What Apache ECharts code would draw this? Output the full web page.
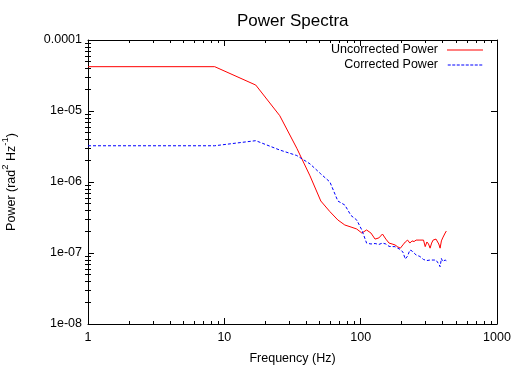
<!DOCTYPE html>
<html>
<head>
<meta charset="utf-8">
<script src="https://cdn.jsdelivr.net/npm/echarts@6/dist/echarts.min.js"></script>
<style>html,body{margin:0;padding:0;background:#fff;}#c{width:522px;height:366px;}</style>
</head>
<body>
<div id="c"></div>
<script>
// Frequencies (Hz)
var freq = [1, 8.5, 17, 25.5, 34, 42.5, 51, 59.5, 68, 76.5, 85, 93.5, 102, 110.5, 119, 127.5, 136, 144.5, 153, 161.5, 170, 178.5, 187, 195.5, 204, 212.5, 221, 229.5, 238, 246.5, 255, 263.5, 272, 280.5, 289, 297.5, 306, 314.5, 323, 331.5, 340, 348.5, 357, 365.5, 374, 382.5, 391, 399.5, 408, 416.5, 425];
// Uncorrected power (rad^2 Hz^-1)
var uncorrected = [4.21e-5, 4.21e-5, 2.32e-5, 8.59e-6, 2.99e-6, 1.22e-6, 5.40e-7, 3.82e-7, 2.92e-7, 2.48e-7, 2.32e-7, 2.18e-7, 1.91e-7, 2.11e-7, 1.91e-7, 1.57e-7, 1.63e-7, 1.85e-7, 1.57e-7, 1.38e-7, 1.34e-7, 1.30e-7, 1.22e-7, 1.17e-7, 1.30e-7, 1.43e-7, 1.52e-7, 1.38e-7, 1.48e-7, 1.45e-7, 1.52e-7, 1.61e-7, 1.52e-7, 1.57e-7, 1.52e-7, 1.23e-7, 1.43e-7, 1.34e-7, 1.17e-7, 1.38e-7, 1.52e-7, 1.52e-7, 1.57e-7, 1.52e-7, 1.34e-7, 1.17e-7, 1.48e-7, 1.63e-7, 1.73e-7, 1.91e-7, 2.04e-7];
// Corrected power (rad^2 Hz^-1)
var corrected = [3.24e-6, 3.24e-6, 3.82e-6, 2.82e-6, 2.36e-6, 1.80e-6, 1.30e-6, 1.00e-6, 5.40e-7, 4.74e-7, 3.37e-7, 2.92e-7, 2.11e-7, 1.38e-7, 1.34e-7, 1.36e-7, 1.32e-7, 1.38e-7, 1.34e-7, 1.24e-7, 1.23e-7, 1.23e-7, 1.17e-7, 1.12e-7, 1.03e-7, 8.22e-8, 9.08e-8, 1.10e-7, 1.07e-7, 1.00e-7, 9.38e-8, 9.53e-8, 8.94e-8, 8.38e-8, 8.10e-8, 8.51e-8, 7.83e-8, 7.59e-8, 7.96e-8, 7.59e-8, 7.96e-8, 7.59e-8, 7.96e-8, 7.59e-8, 7.00e-8, 6.41e-8, 8.38e-8, 7.59e-8, 7.83e-8, 7.96e-8, 7.78e-8];
// Tick labels
var xTickLabels = ['1', '10', '100', '1000'];
var yTickLabels = ['1e-08', '1e-07', '1e-06', '1e-05', '0.0001'];
var seriesNames = ['Uncorrected Power', 'Corrected Power'];

var FONT = "'Liberation Sans', Arial, Helvetica, sans-serif";

function pairs(xs, ys) { return xs.map(function (x, i) { return [x, ys[i]]; }); }

// minor tick positions (log10 space) for overlay axes
function minorTicks(d0, d1) {
  var out = [];
  for (var d = d0; d < d1; d++) for (var k = 2; k <= 9; k++) out.push(d + Math.log10(k));
  return out;
}

// dashed legend sample path
function dashPath(n, dash, gap) {
  var p = 'path://';
  for (var i = 0; i < n; i++) { p += 'M' + (i * (dash + gap)) + ',0h' + dash + 'v1h-' + dash + 'z'; }
  return p;
}

var chart = echarts.init(document.getElementById('c'), null, { renderer: 'canvas' });

function majorX(pos, showLabel) {
  return {
    type: 'log', logBase: 10, min: 1, max: 1000, position: pos,
    axisLine: { show: true, onZero: false, lineStyle: { color: '#000', width: 1 } },
    axisTick: { show: true, inside: true, length: 6, lineStyle: { color: '#000' } },
    axisLabel: {
      show: showLabel, margin: 7, color: '#000', fontSize: 12.5, fontFamily: FONT,
      formatter: function (v) { return xTickLabels[Math.round(Math.log10(v))]; }
    },
    splitLine: { show: false },
    name: showLabel ? 'Frequency (Hz)' : '',
    nameLocation: 'middle', nameGap: 28,
    nameTextStyle: { color: '#000', fontSize: 12.5, fontFamily: FONT }
  };
}
function minorX(pos) {
  return {
    type: 'value', min: 0, max: 3, position: pos,
    axisLine: { show: false }, axisLabel: { show: false }, splitLine: { show: false },
    axisTick: { show: true, inside: true, length: 3, lineStyle: { color: '#000' }, customValues: minorTicks(0, 3) }
  };
}
function majorY(pos, showLabel) {
  return {
    type: 'log', logBase: 10, min: 1e-8, max: 1e-4, position: pos,
    axisLine: { show: true, onZero: false, lineStyle: { color: '#000', width: 1 } },
    axisTick: { show: true, inside: true, length: 6, lineStyle: { color: '#000' } },
    axisLabel: {
      show: showLabel, margin: 6, color: '#000', fontSize: 12.5, fontFamily: FONT,
      formatter: function (v) { return yTickLabels[Math.round(Math.log10(v)) + 8]; }
    },
    splitLine: { show: false },
    name: showLabel ? '{n|Power (rad}{s|2}{n| Hz}{s|-1}{n|)}' : '',
    nameLocation: 'middle', nameGap: 70,
    nameTextStyle: {
      color: '#000', fontSize: 12.5, fontFamily: FONT,
      rich: {
        n: { fontSize: 12.5, fontFamily: FONT, color: '#000', lineHeight: 18, verticalAlign: 'bottom' },
        s: { fontSize: 9.5, fontFamily: FONT, color: '#000', lineHeight: 18, verticalAlign: 'top' }
      }
    }
  };
}
function minorY(pos) {
  return {
    type: 'value', min: -8, max: -4, position: pos,
    axisLine: { show: false }, axisLabel: { show: false }, splitLine: { show: false },
    axisTick: { show: true, inside: true, length: 3, lineStyle: { color: '#000' }, customValues: minorTicks(-8, -4) }
  };
}

var option = {
  animation: false,
  backgroundColor: '#fff',
  title: {
    text: 'Power Spectra', left: 232, top: 8,
    textStyle: { color: '#000', fontSize: 17, fontWeight: 'normal', fontFamily: FONT }
  },
  grid: { left: 88, top: 40, right: 25, bottom: 42, containLabel: false, outerBoundsMode: 'none' },
  legend: {
    data: [
      { name: seriesNames[0], icon: 'rect', itemStyle: { color: '#ff0000' } },
      { name: seriesNames[1], icon: dashPath(8, 3, 1.5), itemStyle: { color: '#0000ff' } }
    ],
    orient: 'vertical', align: 'right',
    right: 39, top: 43, padding: 0, itemGap: 1, itemWidth: 36, itemHeight: 1,
    textStyle: { color: '#000', fontSize: 12.5, fontFamily: FONT, padding: [0, 4, 0, 0], lineHeight: 14 }
  },
  xAxis: [majorX('bottom', true), majorX('top', false), minorX('bottom'), minorX('top')],
  yAxis: [majorY('left', true), majorY('right', false), minorY('left'), minorY('right')],
  series: [
    {
      name: seriesNames[0], type: 'line', xAxisIndex: 0, yAxisIndex: 0,
      data: pairs(freq, uncorrected), symbol: 'none', showSymbol: false,
      lineStyle: { color: '#ff0000', width: 1 }, itemStyle: { color: '#ff0000' }
    },
    {
      name: seriesNames[1], type: 'line', xAxisIndex: 0, yAxisIndex: 0,
      data: pairs(freq, corrected), symbol: 'none', showSymbol: false,
      lineStyle: { color: '#0000ff', width: 1, type: [3, 2] }, itemStyle: { color: '#0000ff' }
    }
  ]
};
chart.setOption(option);
</script>
</body>
</html>
